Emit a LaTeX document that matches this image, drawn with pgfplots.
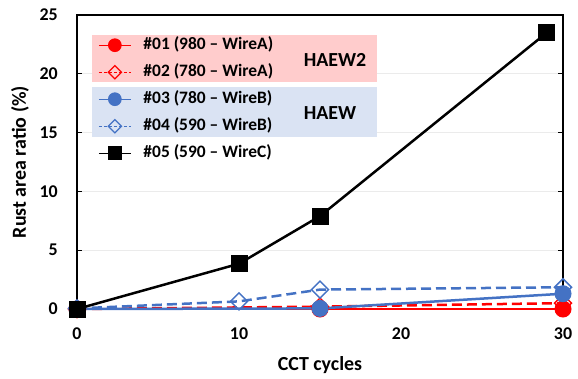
\documentclass[border=0pt]{standalone}
\usepackage{fontspec}
\setmainfont{Carlito}
\usepackage{pgfplots}
\pgfplotsset{compat=1.18}
\definecolor{myblue}{HTML}{4472C4}
\definecolor{myred}{HTML}{FF0000}
\definecolor{pinkbg}{HTML}{FFCCCC}
\definecolor{bluebg}{HTML}{DAE3F3}
\pgfplotsset{
  legsolid/.style={legend image code/.code={\draw[mark repeat=2,mark phase=2,line width=1.3bp,solid,/tikz/every mark/.append style={scale=0.78,line width=1.2bp}] plot coordinates {(0bp,0bp)(16bp,0bp)(32bp,0bp)};}},
  legdash/.style={legend image code/.code={\draw[mark repeat=2,mark phase=2,line width=1.3bp,dash pattern=on 3bp off 2bp,/tikz/every mark/.append style={scale=0.78,line width=1.2bp,solid}] plot coordinates {(0bp,0bp)(16bp,0bp)(32bp,0bp)};}},
}
\begin{document}
\begin{tikzpicture}[x=1bp,y=1bp]
\path[use as bounding box] (-77,-69) rectangle (501,309);
\begin{axis}[
  at={(0,0)}, anchor=south west, scale only axis,
  width=486bp, height=294bp,
  xmin=0, xmax=30, ymin=0, ymax=25,
  xtick={0,10,20,30}, ytick={0,5,...,25},
  clip=false,
  axis line style={line width=1.2bp},
  ymajorgrids, major grid style={black!8, line width=1bp},
  tick align=inside, major tick length=5bp,
  xtick style={draw=none}, ytick style={line width=1bp, black},
  /pgf/number format/assume math mode=true,
  tick label style={font=\bfseries\fontsize{18}{18}\selectfont},
  xticklabel style={anchor=center, yshift=-25bp},
  yticklabel style={anchor=east, inner sep=0pt, xshift=-19bp},
  xlabel={CCT cycles}, ylabel={Rust area ratio (\%)},
  label style={font=\bfseries\fontsize{20}{20}\selectfont},
  xlabel style={at={(axis description cs:0.5,0)}, anchor=center, yshift=-56bp},
  ylabel style={at={(axis description cs:-0.1173,0.5)}, anchor=center},
  legend style={draw=none, fill=none, at={(axis cs:1.296,23.13)}, anchor=north west,
    inner sep=0pt, row sep=11bp, column sep=12bp,
    nodes={inner sep=0pt, text height=12bp, text depth=4bp},
    font=\bfseries\fontsize{17.5}{17.5}\selectfont},
  legend cell align=left,
]
\fill[pinkbg] (axis cs:0.926,19.30) rectangle (axis cs:18.52,23.30);
\fill[bluebg] (axis cs:0.926,14.63) rectangle (axis cs:18.52,18.88);
\node[font=\bfseries\fontsize{20}{20}\selectfont] at (axis cs:15.93,21.17) {HAEW2};
\node[font=\bfseries\fontsize{20}{20}\selectfont] at (axis cs:15.62,16.67) {HAEW};

\addplot[myred, line width=2.5bp, mark=*, mark size=8bp, mark options={fill=myred, draw=myred, line width=1bp}, legsolid]
  coordinates {(0,0) (15,0) (30,0)};
\addlegendentry{\#01 (980 – WireA)}
\addplot[myred, line width=2.5bp, dash pattern=on 10bp off 5bp, mark=square, mark size=6bp, mark options={rotate=45, fill=white, draw=myred, line width=1.5bp, solid}, legdash]
  coordinates {(0,0) (15,0.2) (30,0.5)};
\addlegendentry{\#02 (780 – WireA)}
\addplot[myblue, line width=2.5bp, mark=*, mark size=8bp, mark options={fill=myblue, draw=myblue, line width=1bp}, legsolid]
  coordinates {(0,0) (15,0.05) (30,1.3)};
\addlegendentry{\#03 (780 – WireB)}
\addplot[myblue, line width=2.5bp, dash pattern=on 10bp off 5bp, mark=square, mark size=6bp, mark options={rotate=45, fill=white, draw=myblue, line width=1.5bp, solid}, legdash]
  coordinates {(0,0.05) (10,0.65) (15,1.65) (30,1.85)};
\addlegendentry{\#04 (590 – WireB)}
\addplot[black, line width=2.5bp, mark=square*, mark size=8bp, mark options={fill=black, draw=black, line width=1bp}, legsolid]
  coordinates {(0,0) (10,3.85) (15,7.9) (29,23.5)};
\addlegendentry{\#05 (590 – WireC)}
\end{axis}
\end{tikzpicture}
\end{document}
